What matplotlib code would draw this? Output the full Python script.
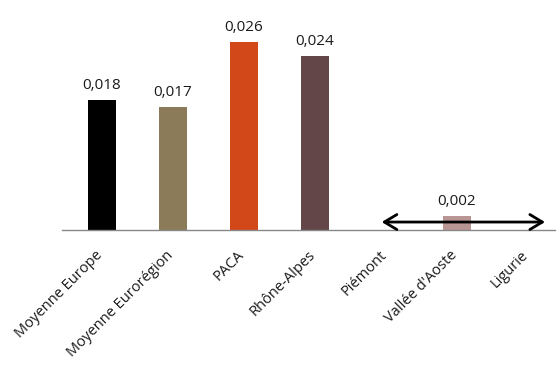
import matplotlib
matplotlib.use("Agg")
import matplotlib.pyplot as plt
import matplotlib.transforms as mtransforms
import numpy as np

categories = ["Moyenne Europe", "Moyenne Eurorégion", "PACA", "Rhône-Alpes",
              "Piémont", "Vallée d'Aoste", "Ligurie"]
values = [0.018, 0.017, 0.026, 0.024, None, 0.002, None]
labels = ["0,018", "0,017", "0,026", "0,024", "", "0,002", ""]
colors = ["#000000", "#8B7B58", "#D24818", "#634648", "#ffffff", "#B99594", "#ffffff"]

plt.rcParams['font.family'] = ['Open Sans', 'DejaVu Sans']

W, H = 560, 367
fig = plt.figure(figsize=(W/100, H/100), dpi=100)
ax = fig.add_axes([62/W, (H-230)/H, (555-62)/W, 210/H])

x = np.arange(len(categories))
for i, (v, c, lab) in enumerate(zip(values, colors, labels)):
    if v is None:
        continue
    ax.bar(i, v, width=0.4, color=c)
    ax.annotate(lab, (i, v), xytext=(0, 5), textcoords='offset points',
                ha='center', va='bottom', fontsize=11, color='#1a1a1a')

ax.annotate('', xy=(6.24, 0.0011), xytext=(3.94, 0.0011),
            arrowprops=dict(arrowstyle='<->,head_length=0.5,head_width=0.3', lw=2,
                            color='black', mutation_scale=18, shrinkA=0, shrinkB=0))

ax.set_xlim(-0.56, 6.38)
ax.set_ylim(0, 0.029)
ax.set_xticks(x)
ax.set_xticklabels(categories, rotation=45, ha='right', rotation_mode='anchor',
                   fontsize=10.5, color='#1a1a1a')
ax.tick_params(axis='x', length=0, pad=10)
offset = mtransforms.ScaledTranslation(-7/100, -4/100, fig.dpi_scale_trans)
for lbl in ax.get_xticklabels():
    lbl.set_transform(lbl.get_transform() + offset)
ax.set_yticks([])
for s in ['top', 'right', 'left']:
    ax.spines[s].set_visible(False)
ax.spines['bottom'].set_color('#888888')
ax.spines['bottom'].set_linewidth(1)

fig.savefig('out.png', dpi=100)
